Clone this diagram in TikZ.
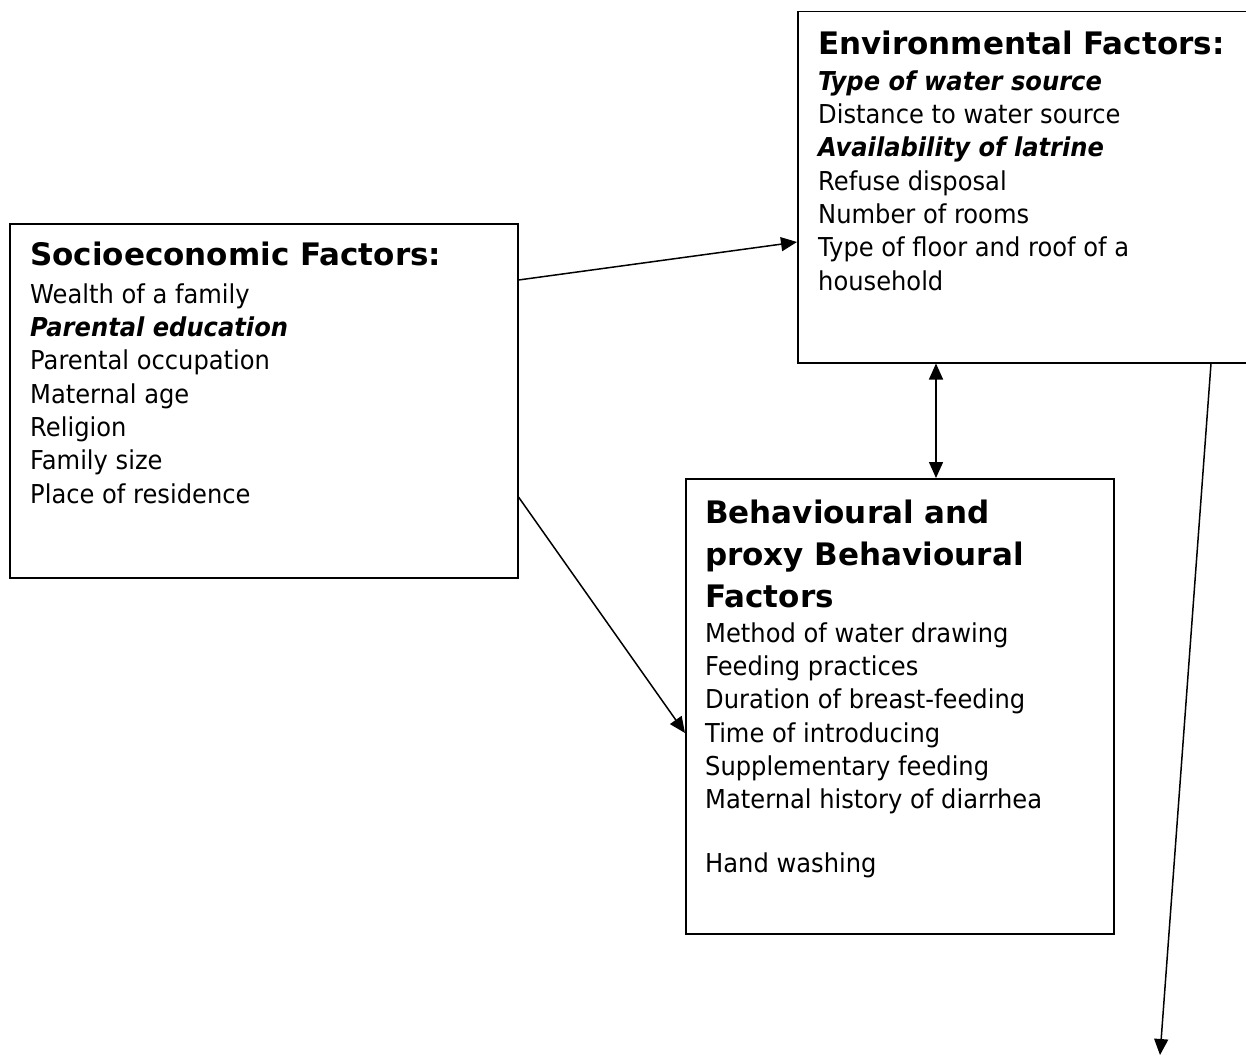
\documentclass[tikz,border=0pt]{standalone}
\usepackage{fontspec}
\setmainfont{DejaVu Sans}[FakeStretch=0.93]
\newfontfamily\headfont{DejaVu Sans}
\usetikzlibrary{arrows.meta,calc}
\tikzset{
  box/.style={draw=black, line width=1.5pt, fill=none, inner sep=0pt, anchor=north west},
  head/.style={anchor=base west, inner sep=0pt, font=\headfont\bfseries\fontsize{31}{42}\selectfont},
  heads/.style={anchor=north west, inner sep=0pt, align=left, font=\headfont\bfseries\fontsize{31}{42}\selectfont},
  body/.style={anchor=north west, inner sep=0pt, align=left, font=\fontsize{26}{33.3}\selectfont},
  conn/.style={line width=1.5pt, -{Triangle[length=16pt,width=14pt]}},
  dconn/.style={line width=1.5pt, {Triangle[length=16pt,width=14pt]}-{Triangle[length=16pt,width=14pt]}}
}
\begin{document}
\begin{tikzpicture}[x=1pt,y=-1pt]
\useasboundingbox (0,0) rectangle (1246,1057);
\clip (0,0) rectangle (1246,1057);
\fill[white] (0,0) rectangle (1246,1057);
% boxes
\node[box, minimum width=508pt, minimum height=354pt] (socio) at (9,223) {};
\node[box, minimum width=470pt, minimum height=351pt] (env) at (797,11) {};
\node[box, minimum width=428pt, minimum height=455pt] (beh) at (685,478) {};
% environmental
\node[head] (envh) at (818,55) {Environmental Factors:};
\node[body] (envb) at (818,70) {\rule{0pt}{20pt}\textbf{\itshape Type of water source}\\
Distance to water source\\
\textbf{\itshape Availability of latrine}\\
Refuse disposal\\
Number of rooms\\
Type of floor and roof of a\\
household};
% socioeconomic
\node[head] (socioh) at (30,265) {Socioeconomic Factors:};
\node[body] (sociob) at (30,283) {\rule{0pt}{20pt}Wealth of a family\\
\textbf{\itshape Parental education}\\
Parental occupation\\
Maternal age\\
Religion\\
Family size\\
Place of residence};
% behavioural
\node[heads] (behh) at (705,498) {\rule{0pt}{25pt}Behavioural and\\
proxy Behavioural\\
Factors};
\node[body] (behb) at (705,622) {\rule{0pt}{20pt}Method of water drawing\\
Feeding practices\\
Duration of breast-feeding\\
Time of introducing\\
Supplementary feeding\\
Maternal history of diarrhea\\[30.3pt]
Hand washing};
% connectors
\coordinate (outlet) at (1160,1055);
\draw[conn] ($(socio.north east)+(0,57)$) -- ($(env.north west)+(0,231)$);
\draw[conn] ($(socio.north east)+(0,274)$) -- ($(beh.north west)+(0,255)$);
\draw[dconn] ($(env.south west)+(139,0)$) -- ($(beh.north west)+(251,0)$);
\draw[conn] ($(env.south west)+(414,0)$) -- (outlet);
\end{tikzpicture}
\end{document}
